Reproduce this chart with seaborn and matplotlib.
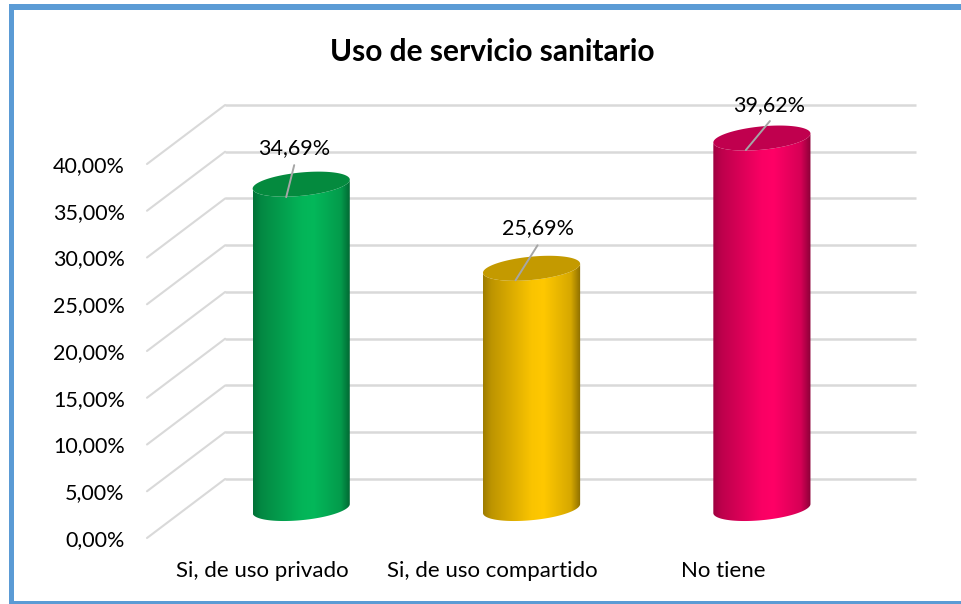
"""Uso de servicio sanitario: 3D-looking cylinder chart drawn over a seaborn barplot."""
import numpy as np
import matplotlib
matplotlib.use("Agg")
import matplotlib.pyplot as plt
from matplotlib.colors import to_rgb
from matplotlib.patches import Polygon, Rectangle
import seaborn as sns

categories = ["Si, de uso privado", "Si, de uso compartido", "No tiene"]
values = [34.69, 25.69, 39.62]
value_labels = ["34,69%", "25,69%", "39,62%"]
colors = ["#04B85A", "#FFC800", "#FF0066"]
cap_colors = ["#048A3E", "#C49A00", "#C0004E"]
y_ticks = [0, 5, 10, 15, 20, 25, 30, 35, 40]

W, H = 962, 604
PX_X, PX_Y = 230, 9.35                   # px per category / per percent
DEPTH_X, DEPTH_Y = 78 / PX_X, 59 / PX_Y  # back wall shift, in data units
CAP_B, CAP_SKEW = 1.25, 0.48             # cap ellipse half height and tilt
# label offset and leader line ends, px from the top of the cylinder
label_off = [(-7, 36), (6, 40), (7, 33)]
leader_off = [((-7, 19), (-15, -13)), ((6, 23), (-16, -12)), ((8, 17), (-16, -12))]

sns.set_theme(style="white")
plt.rcParams["font.family"] = ["Lato", "DejaVu Sans"]

fig = plt.figure(figsize=(W / 100, H / 100), dpi=100, facecolor="white")
ax = fig.add_axes([147 / W, (H - 538) / H, 691 / W, 374 / H], facecolor="none")

sns.barplot(x=categories, y=values, hue=categories, palette=colors, saturation=1,
            width=97 / PX_X, legend=False, ax=ax)
bars = list(ax.patches)

# walls: back grid lines and the diagonal side lines
for t in y_ticks:
    ax.plot([-0.5 + DEPTH_X, 2.5 + DEPTH_X], [t + DEPTH_Y] * 2, color="#D9D9D9", lw=1.8,
            clip_on=False, zorder=1, solid_capstyle="butt")
    ax.plot([-0.5, -0.5 + DEPTH_X], [t, t + DEPTH_Y], color="#D9D9D9", lw=1.5,
            clip_on=False, zorder=1)

# cylinders built from each seaborn bar
phi = np.linspace(0, 2 * np.pi, 200)
shade_pos = [0, 0.08, 0.5, 0.62, 0.9, 1]
shade_val = [0.62, 0.74, 0.98, 1.0, 0.84, 0.55]
for i, bar in enumerate(bars):
    cx = bar.get_x() + bar.get_width() / 2 + DEPTH_X / 2
    a = bar.get_width() / 2
    base = DEPTH_Y / 2
    top = bar.get_height() + DEPTH_Y / 2
    bar.set_visible(False)

    # side surface: lower half of bottom ellipse up to the top ellipse
    th = np.linspace(np.pi, 2 * np.pi, 100)
    low_x = cx + a * np.cos(th)
    low_y = base + CAP_B * np.sin(th) + CAP_SKEW * np.cos(th)
    up_x = cx + a * np.cos(th)[::-1]
    up_y = top + CAP_B * np.sin(th)[::-1] + CAP_SKEW * np.cos(th)[::-1]
    outline = np.r_[np.c_[low_x, low_y], np.c_[up_x, up_y]]
    clip = Polygon(outline, closed=True, transform=ax.transData)

    u = np.linspace(0, 1, 120)
    shade = np.interp(u, shade_pos, shade_val)
    rgb = np.clip(np.outer(shade, to_rgb(colors[i])), 0, 1)[None, :, :]
    im = ax.imshow(rgb, extent=[cx - a, cx + a, base - 3, top + 3], aspect="auto",
                   zorder=3, interpolation="bilinear")
    im.set_clip_box(fig.bbox)
    im.set_clip_path(clip)

    # top cap
    cap_x = cx + a * np.cos(phi)
    cap_y = top + CAP_B * np.sin(phi) + CAP_SKEW * np.cos(phi)
    ax.fill(cap_x, cap_y, color=cap_colors[i], lw=0, zorder=4, clip_on=False)

    # value label and leader line
    ax.annotate(value_labels[i], xy=(cx, top), xytext=(label_off[i][0] * 0.72, label_off[i][1] * 0.72),
                textcoords="offset points", ha="center", va="center", fontsize=15.5,
                color="black", zorder=6, annotation_clip=False)
    (x0, y0), (x1, y1) = leader_off[i]
    ax.plot([cx + x0 / PX_X, cx + x1 / PX_X], [top + y0 / PX_Y, top + y1 / PX_Y],
            color="#A6A6A6", lw=1.4, zorder=5, clip_on=False)

ax.set_xlim(-0.5, 2.5)
ax.set_ylim(0, 40)
ax.set_yticks(y_ticks)
ax.set_yticklabels([f"{t:.2f}%".replace(".", ",") for t in y_ticks], fontsize=15.5, color="black")
ax.tick_params(axis="y", length=0, pad=16)
ax.tick_params(axis="x", length=0, pad=16.5, labelsize=16, labelcolor="black")
ax.set_xlabel("")
ax.set_ylabel("")
sns.despine(ax=ax, left=True, bottom=True)
ax.set_title("Uso de servicio sanitario", fontsize=21.5, fontweight="bold", color="black", pad=74)

# blue frame around the chart (open on the right, as in the source)
frame = "#5B9BD5"
fig.add_artist(Rectangle((9 / W, 0), 5 / W, (H - 4) / H, transform=fig.transFigure, fc=frame, ec="none"))
fig.add_artist(Rectangle((9 / W, (H - 9.5) / H), (W - 9) / W, 5.5 / H, transform=fig.transFigure, fc=frame, ec="none"))
fig.add_artist(Rectangle((9 / W, 0), (W - 9) / W, 3 / H, transform=fig.transFigure, fc=frame, ec="none"))

fig.savefig("out.png", dpi=100)
